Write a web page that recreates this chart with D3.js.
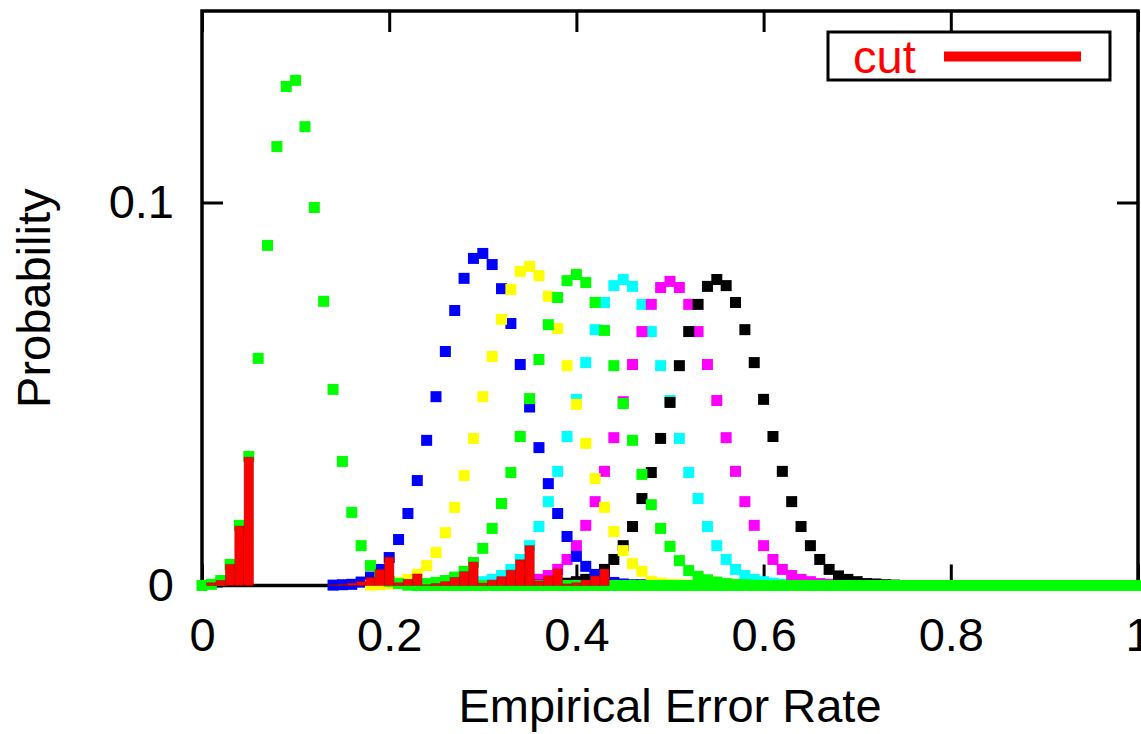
<!DOCTYPE html>
<html>
<head>
<meta charset="utf-8">
<script src="https://cdn.jsdelivr.net/npm/d3@7"></script>
<style>
body { margin: 0; background: #fff; }
svg { display: block; font-family: "Liberation Sans", Arial, sans-serif; }
</style>
</head>
<body>
<svg id="chart" width="1141" height="734"></svg>
<script>
// histogram bins are 0.01 wide; each series lists values from its first bin
const xTicks = [0, 0.2, 0.4, 0.6, 0.8, 1];
const yTicks = [0, 0.1];

const green1Start = 0.00;
const green1 = [
  0, 0.0003, 0.0013, 0.0055, 0.0157, 0.0337, 0.0593, 0.0888, 0.1146, 0.1303,
  0.1319, 0.1198, 0.0987, 0.0742, 0.0512, 0.0324, 0.0191, 0.0104, 0.0052, 0.0025,
  0.0011, 0.0005, 0.0002, 0, 0, 0, 0, 0, 0, 0,
  0, 0, 0, 0, 0, 0, 0, 0, 0, 0,
  0, 0, 0, 0, 0, 0, 0, 0, 0, 0,
  0, 0, 0, 0, 0, 0, 0, 0, 0, 0,
  0, 0, 0, 0, 0, 0, 0, 0, 0, 0,
  0, 0, 0, 0, 0, 0, 0, 0, 0, 0,
  0, 0, 0, 0, 0, 0, 0, 0, 0, 0,
  0, 0, 0, 0, 0, 0, 0, 0, 0, 0,
  0
];

const blueStart = 0.14;
const blue = [
  0.0001, 0.0002, 0.0003, 0.0009, 0.0022, 0.0042,
  0.0073, 0.0120, 0.0188, 0.0274, 0.0379, 0.0493, 0.0611, 0.0718, 0.0802, 0.0854,
  0.0867, 0.0838, 0.0775, 0.0684, 0.0577, 0.0466, 0.0360, 0.0266, 0.0188, 0.0128,
  0.0076, 0.0050, 0.0029, 0.0016, 0.0008, 0.0004, 0.0002, 0.0002, 0.0001
];

const yellowStart = 0.18;
const yellow = [
  0.0001, 0.0002,
  0.0004, 0.0008, 0.0016, 0.0029, 0.0052, 0.0086, 0.0138, 0.0204, 0.0287, 0.0384,
  0.0493, 0.0598, 0.0695, 0.0773, 0.0820, 0.0833, 0.0809, 0.0755, 0.0671, 0.0574,
  0.0473, 0.0371, 0.0279, 0.0204, 0.0141, 0.0091, 0.0057, 0.0037, 0.0011, 0.0006,
  0.0003, 0.0002, 0.0001, 0.0001
];

const green2Start = 0.22;
const green2 = [
  0.0001, 0.0002, 0.0005, 0.0008, 0.0013, 0.0022, 0.0037, 0.0060,
  0.0097, 0.0149, 0.0214, 0.0295, 0.0389, 0.0488, 0.0590, 0.0681, 0.0752, 0.0796,
  0.0812, 0.0791, 0.0739, 0.0666, 0.0574, 0.0475, 0.0379, 0.0290, 0.0211, 0.0149,
  0.0102, 0.0065, 0.0039, 0.0024, 0.0015, 0.0009, 0.0005, 0.0003, 0.0002, 0.0001,
  0, 0, 0, 0, 0, 0, 0, 0, 0, 0,
  0, 0, 0, 0, 0, 0, 0, 0, 0, 0,
  0, 0, 0, 0, 0, 0, 0, 0, 0, 0,
  0, 0, 0, 0, 0, 0, 0, 0, 0, 0,
  0
];

const cyanStart = 0.27;
const cyan = [
  0.0002, 0.0004, 0.0006,
  0.0010, 0.0016, 0.0026, 0.0042, 0.0068, 0.0104, 0.0154, 0.0219, 0.0298, 0.0389,
  0.0486, 0.0582, 0.0668, 0.0739, 0.0783, 0.0799, 0.0781, 0.0734, 0.0663, 0.0574,
  0.0483, 0.0384, 0.0295, 0.0227, 0.0154, 0.0104, 0.0068, 0.0042, 0.0026, 0.0016,
  0.0010, 0.0006, 0.0003, 0.0001
];

const magentaStart = 0.31;
const magenta = [
  0.0001, 0.0002, 0.0003, 0.0005, 0.0010, 0.0016, 0.0026, 0.0042, 0.0068,
  0.0104, 0.0157, 0.0219, 0.0298, 0.0386, 0.0480, 0.0577, 0.0663, 0.0734, 0.0778,
  0.0794, 0.0778, 0.0734, 0.0663, 0.0577, 0.0483, 0.0386, 0.0298, 0.0219, 0.0157,
  0.0104, 0.0068, 0.0042, 0.0026, 0.0016, 0.0010, 0.0005, 0.0003, 0.0001
];

const blackStart = 0.36;
const black = [
  0.0001, 0.0002, 0.0004, 0.0006,
  0.0010, 0.0016, 0.0025, 0.0042, 0.0068, 0.0104, 0.0154, 0.0227, 0.0295, 0.0384,
  0.0478, 0.0574, 0.0663, 0.0734, 0.0781, 0.0799, 0.0783, 0.0739, 0.0668, 0.0582,
  0.0486, 0.0389, 0.0298, 0.0219, 0.0154, 0.0104, 0.0068, 0.0042, 0.0025, 0.0016,
  0.0010, 0.0005, 0.0004, 0.0002, 0.0001
];

const cutStart = 0.01;
const cut = [
  0.0007, 0.0013, 0.0055, 0.0155, 0.0335, 0, 0, 0, 0,
  0, 0, 0, 0, 0.0002, 0.0003, 0.0006, 0.0010, 0.0021, 0.0042,
  0.0074, 0.0007, 0.0016, 0.0030, 0.0002, 0.0005, 0.0010, 0.0021, 0.0036, 0.0061,
  0.0006, 0.0013, 0.0023, 0.0040, 0.0067, 0.0104, 0.0012, 0.0025, 0.0043, 0.0004,
  0.0007, 0.0014, 0.0025, 0.0043
];

// drawing order matters: later series cover earlier ones
const series = [
  { start: cyanStart, values: cyan, color: "#00ffff" },
  { start: magentaStart, values: magenta, color: "#ff00ff" },
  { start: blackStart, values: black, color: "#000000" },
  { start: blueStart, values: blue, color: "#0000ff" },
  { start: yellowStart, values: yellow, color: "#ffff00" },
  { start: green1Start, values: green1, color: "#00ff00" },
  { start: green2Start, values: green2, color: "#00ff00" }
];

const toPoints = (start, values) =>
  values.map((v, i) => ({ x: Math.round(start * 100 + i) / 100, v: v }));

const svg = d3.select("#chart");
const pLeft = 202, pRight = 1138, pTop = 11, pBottom = 585.5;

const x = d3.scaleLinear().domain([0, 1]).range([pLeft, pRight]);
const y = d3.scaleLinear().domain([0, 0.15]).range([pBottom, pTop]);
const fmt = d => String(d);
const fontSize = 47;
const tick = 21;

// frame
svg.append("rect")
  .attr("x", pLeft).attr("y", pTop)
  .attr("width", pRight - pLeft).attr("height", pBottom - pTop)
  .attr("fill", "none").attr("stroke", "#000").attr("stroke-width", 3.5);

// axes with inward ticks, mirrored on top and right
const axes = [
  svg.append("g").attr("transform", `translate(0,${pBottom})`)
    .call(d3.axisBottom(x).tickValues(xTicks).tickFormat(fmt).tickSizeInner(-tick).tickSizeOuter(0).tickPadding(32)),
  svg.append("g").attr("transform", `translate(0,${pTop})`)
    .call(d3.axisTop(x).tickValues(xTicks).tickFormat("").tickSizeInner(-tick).tickSizeOuter(0)),
  svg.append("g").attr("transform", `translate(${pLeft},0)`)
    .call(d3.axisLeft(y).tickValues(yTicks).tickFormat(fmt).tickSizeInner(-tick).tickSizeOuter(0).tickPadding(28)),
  svg.append("g").attr("transform", `translate(${pRight},0)`)
    .call(d3.axisRight(y).tickValues(yTicks).tickFormat("").tickSizeInner(-tick).tickSizeOuter(0))
];
axes.forEach(g => {
  g.select(".domain").remove();
  g.selectAll(".tick line").attr("stroke", "#000").attr("stroke-width", 3);
  g.selectAll(".tick text").attr("fill", "#000")
    .style("font-size", fontSize + "px")
    .style("font-family", '"Liberation Sans", Arial, sans-serif');
});

// point series (filled squares)
const sq = 11;
series.forEach(s => {
  svg.append("g").selectAll("rect")
    .data(toPoints(s.start, s.values))
    .enter().append("rect")
    .attr("x", d => x(d.x) - sq / 2)
    .attr("y", d => y(d.v) - sq / 2)
    .attr("width", sq).attr("height", sq)
    .attr("fill", s.color);
});

// "cut" boxes
const half = 0.005;
svg.append("g").selectAll("rect")
  .data(toPoints(cutStart, cut).filter(d => d.v > 0))
  .enter().append("rect")
  .attr("x", d => x(d.x - half))
  .attr("y", d => y(d.v))
  .attr("width", d => x(d.x + half) - x(d.x - half))
  .attr("height", d => y(0) - y(d.v))
  .attr("fill", "#ff0000")
  .attr("stroke", "rgba(140,0,0,0.45)")
  .attr("stroke-width", 1);

// legend
const lg = svg.append("g");
lg.append("rect").attr("x", 828).attr("y", 32).attr("width", 282).attr("height", 48)
  .attr("fill", "#fff").attr("stroke", "#000").attr("stroke-width", 3);
lg.append("text").attr("x", 853).attr("y", 73).attr("fill", "#ff0000")
  .style("font-size", fontSize + "px").text("cut");
lg.append("line").attr("x1", 944).attr("x2", 1081).attr("y1", 56.5).attr("y2", 56.5)
  .attr("stroke", "#ff0000").attr("stroke-width", 10);

// axis titles
svg.append("text").attr("x", (pLeft + pRight) / 2).attr("y", 722)
  .attr("text-anchor", "middle").style("font-size", fontSize + "px")
  .text("Empirical Error Rate");
svg.append("text").attr("transform", `translate(50,${(pTop + pBottom) / 2}) rotate(-90)`)
  .attr("text-anchor", "middle").style("font-size", fontSize + "px")
  .text("Probability");
</script>
</body>
</html>
